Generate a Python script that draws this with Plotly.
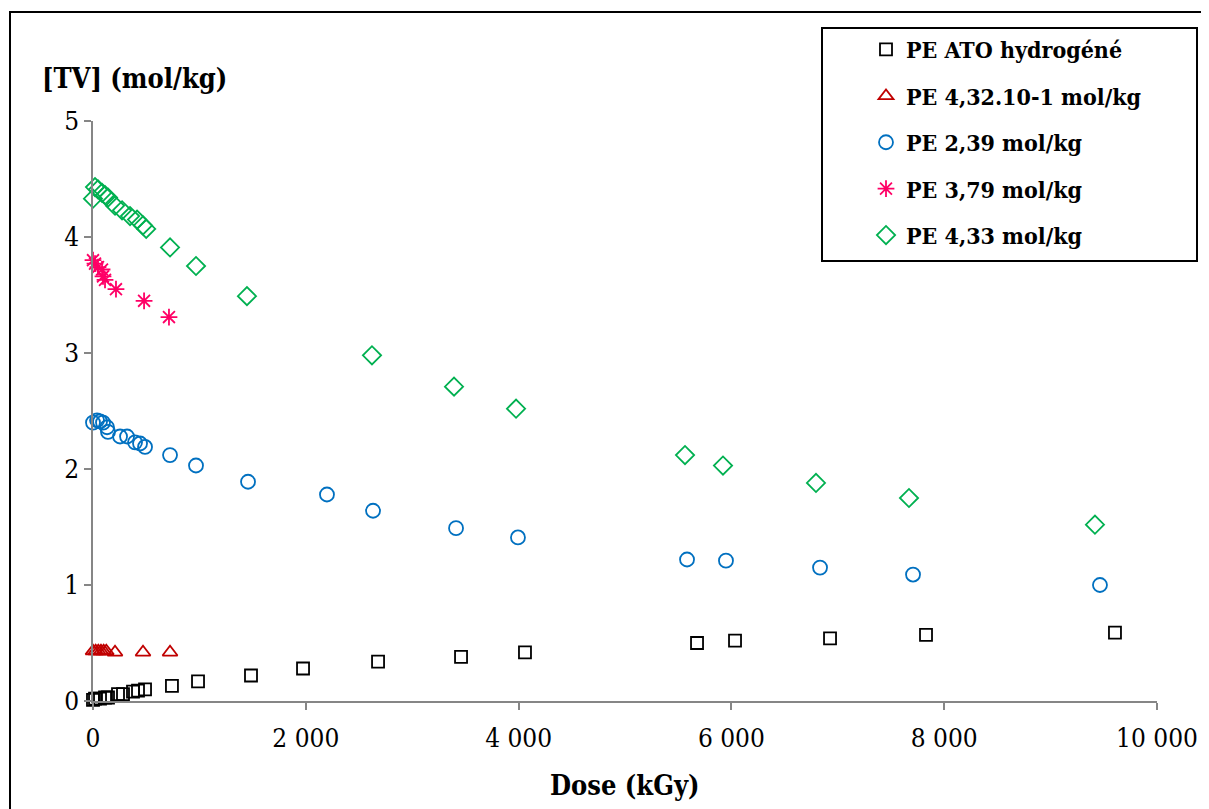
import plotly.graph_objects as go

# ---- data ----
dose_ato = [0, 19, 66, 113, 141, 235, 282, 376, 423, 489, 742, 987, 1485, 1974, 2679, 3459, 4060, 5677, 6034, 6927, 7829, 9605]
tv_ato = [0.01, 0.02, 0.02, 0.03, 0.03, 0.06, 0.06, 0.08, 0.09, 0.10, 0.13, 0.17, 0.22, 0.28, 0.34, 0.38, 0.42, 0.50, 0.52, 0.54, 0.57, 0.59]

dose_043 = [0, 25, 50, 75, 100, 125, 207, 470, 724]
tv_043 = [0.43, 0.43, 0.43, 0.43, 0.43, 0.43, 0.42, 0.42, 0.42]

dose_239 = [0, 38, 66, 94, 132, 141, 254, 320, 395, 442, 489, 724, 968, 1457, 2199, 2632, 3412, 3994, 5583, 5949, 6833, 7707, 9464]
tv_239 = [2.40, 2.42, 2.41, 2.40, 2.36, 2.32, 2.28, 2.28, 2.23, 2.22, 2.19, 2.12, 2.03, 1.89, 1.78, 1.64, 1.49, 1.41, 1.22, 1.21, 1.15, 1.09, 1.00]

dose_379 = [0, 19, 47, 85, 94, 113, 216, 480, 714]
tv_379 = [3.80, 3.77, 3.74, 3.72, 3.66, 3.63, 3.55, 3.45, 3.31]

dose_433 = [0, 19, 47, 85, 113, 141, 207, 273, 348, 414, 470, 500, 724, 968, 1447, 2622, 3393, 3976, 5564, 5921, 6795, 7669, 9417]
tv_433 = [4.33, 4.43, 4.41, 4.38, 4.36, 4.34, 4.27, 4.23, 4.18, 4.15, 4.10, 4.07, 3.91, 3.75, 3.49, 2.98, 2.71, 2.52, 2.12, 2.03, 1.88, 1.75, 1.52]

series = [
    ("PE ATO hydrogéné", dose_ato, tv_ato, "square-open", "#000000", 12),
    ("PE 4,32.10-1 mol/kg", dose_043, tv_043, "triangle-up-open", "#C00000", 13),
    ("PE 2,39 mol/kg", dose_239, tv_239, "circle-open", "#0070C0", 14),
    ("PE 3,79 mol/kg", dose_379, tv_379, "asterisk-open", "#FF0066", 14),
    ("PE 4,33 mol/kg", dose_433, tv_433, "diamond-open", "#00B050", 14),
]

x_ticks = [0, 2000, 4000, 6000, 8000, 10000]
x_ticklabels = ["0", "2 000", "4 000", "6 000", "8 000", "10 000"]

SERIF = "DejaVu Serif Condensed, DejaVu Serif"

fig = go.Figure()
for i, (name, xs, ys, sym, col, sz) in enumerate(series):
    fig.add_trace(go.Scatter(
        x=xs, y=ys, mode="markers", name="<b>" + name + "</b>", legendgroup=f"g{i}",
        marker=dict(symbol=sym, size=sz, color=col, line=dict(color=col, width=1.8)),
        cliponaxis=False,
    ))

OFF = 8
W, H = 1209, 809
PL, PR, PT, PB = 93, 1157, 121, 701
L = PL - OFF
T = PT - OFF
R = W - (PR - OFF)
B = H - (PB - OFF)
pw, ph = PR - PL, PB - PT

def px(xp):
    return (xp - PL) / pw

def py(yp):
    return (PB - yp) / ph

axis_col = "#868686"
fig.update_layout(
    width=W, height=H,
    margin=dict(l=L, r=R, t=T, b=B, autoexpand=False),
    paper_bgcolor="white", plot_bgcolor="white",
    font=dict(family=SERIF, color="black"),
    xaxis=dict(
        range=[0, 10000], tickvals=x_ticks, ticktext=x_ticklabels, automargin=False,
        showgrid=False, zeroline=False, showline=True, linecolor=axis_col, linewidth=1.5,
        ticks="outside", tickcolor=axis_col, ticklen=7, tickwidth=1.5,
        tickfont=dict(size=26, family=SERIF), ticklabelstandoff=6,
    ),
    yaxis=dict(
        range=[0, 5], dtick=1, tick0=0, automargin=False,
        showgrid=False, zeroline=False, showline=True, linecolor=axis_col, linewidth=1.5,
        ticks="outside", tickcolor=axis_col, ticklen=7, tickwidth=1.5,
        tickfont=dict(size=26, family=SERIF),
    ),
    legend=dict(
        x=px(866), y=py(28), xanchor="left", yanchor="top",
        font=dict(size=23, family=SERIF),
        bgcolor="rgba(0,0,0,0)", borderwidth=0,
        traceorder="grouped", tracegroupgap=13.5,
    ),
    showlegend=True,
)

fig.add_annotation(
    text="<b>[TV] (mol/kg)</b>", x=px(40), y=py(78), xref="paper", yref="paper",
    xanchor="left", yanchor="middle", showarrow=False,
    font=dict(size=27, family=SERIF),
)
fig.add_annotation(
    text="<b>Dose (kGy)</b>", x=px(625), y=py(785), xref="paper", yref="paper",
    xanchor="center", yanchor="middle", showarrow=False,
    font=dict(size=27, family=SERIF),
)

fig.add_shape(type="rect", xref="paper", yref="paper",
              x0=px(822), x1=px(1197), y0=py(261), y1=py(28),
              line=dict(color="black", width=2), fillcolor="rgba(0,0,0,0)", layer="above")
fig.add_shape(type="rect", xref="paper", yref="paper",
              x0=px(10), x1=px(1230), y0=py(830), y1=py(12),
              line=dict(color="black", width=2), fillcolor="rgba(0,0,0,0)", layer="above")

fig.write_html("out.html")
